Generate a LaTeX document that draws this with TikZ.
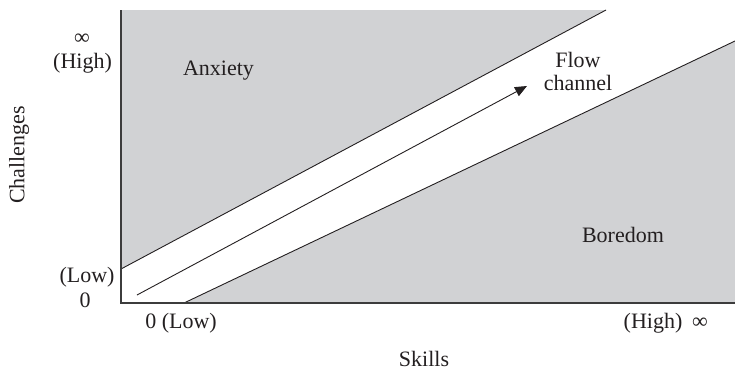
\documentclass[tikz,border=0pt]{standalone}
\usepackage{fontspec}
\setmainfont{Liberation Serif}
\usetikzlibrary{arrows.meta}
\definecolor{zonegray}{RGB}{209,210,212}
\definecolor{axisgray}{RGB}{60,60,60}
\definecolor{inkc}{RGB}{35,31,32}
\tikzset{
  lbl/.style={font=\fontsize{22}{25}\selectfont, inner sep=0pt, text=inkc},
  zone/.style={fill=zonegray, draw=none},
  edge/.style={draw=inkc, line width=0.9pt},
  axis/.style={draw=axisgray, line width=1.6pt},
  flow/.style={draw=inkc, line width=0.9pt, -{Triangle[length=12pt,width=10pt]}}
}
\begin{document}
\begin{tikzpicture}[x=1pt,y=-1pt]
\useasboundingbox (0,0) rectangle (735,370);
% named corners
\coordinate (tl) at (121,10);
\coordinate (bl) at (121,303);
\coordinate (br) at (735,303);
\coordinate (upA) at (121,269);
\coordinate (upB) at (606,10);
\coordinate (loA) at (184,303);
\coordinate (loB) at (735,41);
\coordinate (arA) at (137,295);
\coordinate (arB) at (527,86);
% zones
\path[zone] (tl) -- (upB) -- (upA) -- cycle;
\path[zone] (loA) -- (loB) -- (br) -- cycle;
% boundaries
\draw[edge] (upA) -- (upB);
\draw[edge] (loA) -- (loB);
\draw[flow] (arA) -- (arB);
% axes
\draw[axis] (tl) -- (bl) -- (br);
% labels
\node[lbl] (inf1) at (82,39) {∞};
\node[lbl] (high1) at (82.5,63) {(High)};
\node[lbl] (low1) at (87,277) {(Low)};
\node[lbl] (zero1) at (85,300) {0};
\node[lbl] (low2) at (181,323) {0 (Low)};
\node[lbl] (high2) at (653,323) {(High)};
\node[lbl] (inf2) at (700,323) {∞};
\node[lbl] (skills) at (424,359) {Skills};
\node[lbl, rotate=90] (chal) at (19,155) {Challenges};
\node[lbl] (anx) at (218.5,71) {Anxiety};
\node[lbl, align=center] (flowlbl) at (578,71) {Flow\\[-2pt]channel};
\node[lbl] (bore) at (623,235) {Boredom};
\end{tikzpicture}
\end{document}
